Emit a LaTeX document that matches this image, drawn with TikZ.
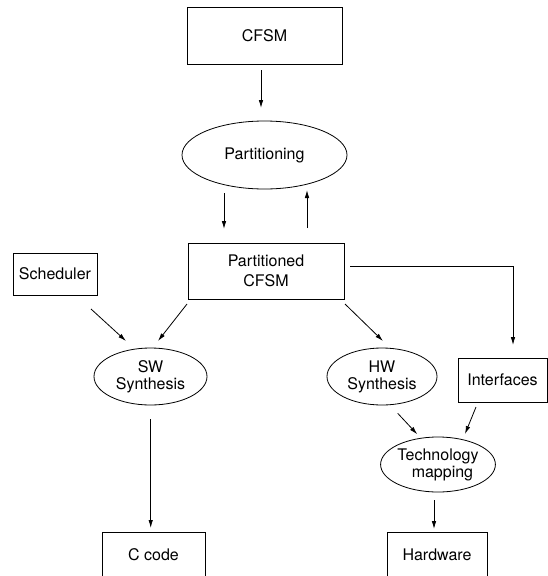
\documentclass[tikz,border=0pt]{standalone}
\usepackage{fontspec}
\setmainfont{TeX Gyre Heros}
\usetikzlibrary{shapes.geometric,arrows.meta,calc}

\tikzset{
  x=1pt, y=-1pt,
  every node/.style={font=\fontsize{16}{17}\selectfont, inner sep=0pt, align=center},
  block/.style={draw, line width=0.8pt, rectangle},
  task/.style={draw, line width=0.8pt, ellipse},
  flow/.style={line width=0.8pt, -{Latex[length=8pt,width=4.5pt]}},
}

\begin{document}
\begin{tikzpicture}
\clip (0,0) rectangle (548,576);
\fill[white] (0,0) rectangle (548,576);

% nodes
\node[block, minimum width=155pt, minimum height=57pt] (cfsm) at (264.5,35.5) {CFSM};
\node[task, minimum width=165pt, minimum height=68pt] (part) at (264.5,155) {Partitioning};
\node[block, minimum width=156pt, minimum height=56pt,
      font=\fontsize{16}{20}\selectfont] (pcfsm) at (266,271) {Partitioned\\CFSM};
\node[block, minimum width=84pt, minimum height=42pt] (sched) at (55,274) {Scheduler};
\node[task, minimum width=113pt, minimum height=57pt] (sw) at (150.5,376.5) {SW\\Synthesis};
\node[task, minimum width=110pt, minimum height=57pt] (hw) at (382,376.5) {HW\\Synthesis};
\node[block, minimum width=89pt, minimum height=44pt] (intf) at (502.5,380) {Interfaces};
\node[task, minimum width=112pt, minimum height=55pt] (tm) at (438,464.5) {Technology\\\ \ mapping};
\node[block, minimum width=103pt, minimum height=46pt] (ccode) at (153.5,555) {C code};
\node[block, minimum width=100pt, minimum height=46pt] (hwout) at (437,555) {Hardware};

% connectors
\draw[flow] ($(cfsm)+(-3.5,34.5)$) -- ($(part)+(-3.5,-47)$);
\draw[flow] ($(part)+(-40.5,38)$) -- ($(pcfsm)+(-42,-42)$);
\draw[flow] ($(pcfsm)+(41,-43)$) -- ($(part)+(42.5,35)$);
\draw[flow] ($(sched)+(36,35)$) -- ($(sw)+(-24.5,-35.5)$);
\draw[flow] ($(pcfsm)+(-79,33)$) -- ($(sw)+(7.5,-35.5)$);
\draw[flow] ($(pcfsm)+(79,33)$) -- ($(hw)+(1,-35.5)$);
\draw[flow] ($(pcfsm)+(84,-5)$) -| ($(intf)+(10.5,-35)$);
\draw[flow] ($(sw)+(0.2,42.5)$) -- ($(ccode)+(-2.8,-27)$);
\draw[flow] ($(hw)+(15.7,36.8)$) -- ($(tm)+(-20.7,-30.2)$);
\draw[flow] ($(intf)+(-26.5,27)$) -- ($(tm)+(27,-30.5)$);
\draw[flow] ($(tm)+(-4,35.5)$) -- ($(hwout)+(-3,-26)$);
\end{tikzpicture}
\end{document}
